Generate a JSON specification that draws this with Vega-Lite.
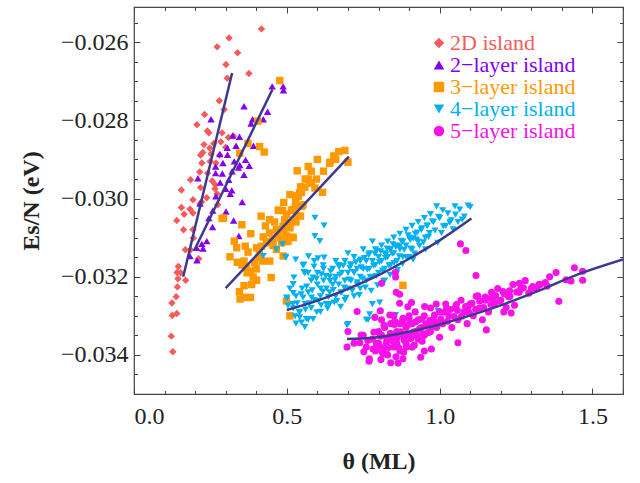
{
"$schema":"https://vega.github.io/schema/vega-lite/v6.json",
"width":489,"height":387,
"autosize":{"type":"none"},
"padding":{"left":134,"top":7,"right":17,"bottom":89},
"background":"white",
"config":{"font":"Liberation Serif","view":{"stroke":"#444","strokeWidth":1.2},
"axis":{"domain":false,"grid":false,"tickColor":"#444","tickWidth":1,"labelFont":"Liberation Serif","labelFontSize":24,"labelColor":"#222","titleFont":"Liberation Serif","titleFontSize":24,"titleFontWeight":"bold","titleColor":"#222"},
"legend":{"labelFont":"Liberation Serif","labelFontSize":22,"labelLimit":0,"symbolSize":110,"labelOffset":0,"rowPadding":0,"padding":0,"symbolStrokeWidth":0}},
"datasets":{
"pts":[
{"s":"2D island","x":0.417,"y":-0.02566},{"s":"2D island","x":0.311,"y":-0.02589},{"s":"2D island","x":0.272,"y":-0.02612},{"s":"2D island","x":0.339,"y":-0.02627},{"s":"2D island","x":0.301,"y":-0.02657},{"s":"2D island","x":0.376,"y":-0.0268},{"s":"2D island","x":0.305,"y":-0.02692},{"s":"2D island","x":0.279,"y":-0.0275},{"s":"2D island","x":0.295,"y":-0.02772},{"s":"2D island","x":0.231,"y":-0.02785},{"s":"2D island","x":0.206,"y":-0.02811},{"s":"2D island","x":0.24,"y":-0.02827},{"s":"2D island","x":0.245,"y":-0.02832},{"s":"2D island","x":0.288,"y":-0.02832},{"s":"2D island","x":0.325,"y":-0.0284},{"s":"2D island","x":0.309,"y":-0.02844},{"s":"2D island","x":0.284,"y":-0.02855},{"s":"2D island","x":0.261,"y":-0.02859},{"s":"2D island","x":0.229,"y":-0.02862},{"s":"2D island","x":0.248,"y":-0.02871},{"s":"2D island","x":0.3,"y":-0.02869},{"s":"2D island","x":0.225,"y":-0.02882},{"s":"2D island","x":0.218,"y":-0.02889},{"s":"2D island","x":0.252,"y":-0.02886},{"s":"2D island","x":0.28,"y":-0.02889},{"s":"2D island","x":0.249,"y":-0.02905},{"s":"2D island","x":0.222,"y":-0.02909},{"s":"2D island","x":0.268,"y":-0.02909},{"s":"2D island","x":0.215,"y":-0.02932},{"s":"2D island","x":0.241,"y":-0.02935},{"s":"2D island","x":0.185,"y":-0.02952},{"s":"2D island","x":0.256,"y":-0.02955},{"s":"2D island","x":0.266,"y":-0.02965},{"s":"2D island","x":0.218,"y":-0.02972},{"s":"2D island","x":0.155,"y":-0.02978},{"s":"2D island","x":0.265,"y":-0.02975},{"s":"2D island","x":0.272,"y":-0.02988},{"s":"2D island","x":0.193,"y":-0.03003},{"s":"2D island","x":0.221,"y":-0.03009},{"s":"2D island","x":0.238,"y":-0.02998},{"s":"2D island","x":0.155,"y":-0.03023},{"s":"2D island","x":0.183,"y":-0.03027},{"s":"2D island","x":0.164,"y":-0.0304},{"s":"2D island","x":0.193,"y":-0.03037},{"s":"2D island","x":0.14,"y":-0.03056},{"s":"2D island","x":0.162,"y":-0.0308},{"s":"2D island","x":0.193,"y":-0.03079},{"s":"2D island","x":0.194,"y":-0.03101},{"s":"2D island","x":0.168,"y":-0.03131},{"s":"2D island","x":0.185,"y":-0.03131},{"s":"2D island","x":0.212,"y":-0.03154},{"s":"2D island","x":0.145,"y":-0.03174},{"s":"2D island","x":0.141,"y":-0.03189},{"s":"2D island","x":0.153,"y":-0.0319},{"s":"2D island","x":0.144,"y":-0.03205},{"s":"2D island","x":0.169,"y":-0.03209},{"s":"2D island","x":0.142,"y":-0.03226},{"s":"2D island","x":0.138,"y":-0.03251},{"s":"2D island","x":0.124,"y":-0.03267},{"s":"2D island","x":0.125,"y":-0.03299},{"s":"2D island","x":0.14,"y":-0.03294},{"s":"2D island","x":0.122,"y":-0.03352},{"s":"2D island","x":0.127,"y":-0.03392},{"s":"2D island","x":0.216,"y":-0.03014},{"s":"2D island","x":0.274,"y":-0.03016},
{"s":"2−layer island","x":0.452,"y":-0.02713},{"s":"2−layer island","x":0.488,"y":-0.02713},{"s":"2−layer island","x":0.489,"y":-0.02723},{"s":"2−layer island","x":0.36,"y":-0.02764},{"s":"2−layer island","x":0.437,"y":-0.02778},{"s":"2−layer island","x":0.252,"y":-0.02797},{"s":"2−layer island","x":0.388,"y":-0.02797},{"s":"2−layer island","x":0.423,"y":-0.02797},{"s":"2−layer island","x":0.383,"y":-0.02808},{"s":"2−layer island","x":0.323,"y":-0.02839},{"s":"2−layer island","x":0.345,"y":-0.02842},{"s":"2−layer island","x":0.391,"y":-0.02865},{"s":"2−layer island","x":0.305,"y":-0.0287},{"s":"2−layer island","x":0.334,"y":-0.02865},{"s":"2−layer island","x":0.281,"y":-0.02886},{"s":"2−layer island","x":0.306,"y":-0.02888},{"s":"2−layer island","x":0.291,"y":-0.02909},{"s":"2−layer island","x":0.328,"y":-0.02905},{"s":"2−layer island","x":0.365,"y":-0.02901},{"s":"2−layer island","x":0.267,"y":-0.02918},{"s":"2−layer island","x":0.346,"y":-0.02914},{"s":"2−layer island","x":0.377,"y":-0.02916},{"s":"2−layer island","x":0.321,"y":-0.0293},{"s":"2−layer island","x":0.342,"y":-0.02921},{"s":"2−layer island","x":0.267,"y":-0.02935},{"s":"2−layer island","x":0.289,"y":-0.02936},{"s":"2−layer island","x":0.36,"y":-0.02939},{"s":"2−layer island","x":0.209,"y":-0.02948},{"s":"2−layer island","x":0.31,"y":-0.02952},{"s":"2−layer island","x":0.282,"y":-0.02959},{"s":"2−layer island","x":0.3,"y":-0.02975},{"s":"2−layer island","x":0.32,"y":-0.02979},{"s":"2−layer island","x":0.315,"y":-0.02988},{"s":"2−layer island","x":0.216,"y":-0.03013},{"s":"2−layer island","x":0.354,"y":-0.03009},{"s":"2−layer island","x":0.268,"y":-0.02994},{"s":"2−layer island","x":0.301,"y":-0.03033},{"s":"2−layer island","x":0.245,"y":-0.0305},{"s":"2−layer island","x":0.326,"y":-0.03056},{"s":"2−layer island","x":0.257,"y":-0.03073},{"s":"2−layer island","x":0.258,"y":-0.03031},{"s":"2−layer island","x":0.343,"y":-0.03096},{"s":"2−layer island","x":0.238,"y":-0.03109},{"s":"2−layer island","x":0.222,"y":-0.03116},{"s":"2−layer island","x":0.205,"y":-0.03126},{"s":"2−layer island","x":0.226,"y":-0.03128},{"s":"2−layer island","x":0.183,"y":-0.03147},{"s":"2−layer island","x":0.206,"y":-0.03158},
{"s":"3−layer island","x":0.477,"y":-0.02698},{"s":"3−layer island","x":0.405,"y":-0.02802},{"s":"3−layer island","x":0.373,"y":-0.02859},{"s":"3−layer island","x":0.411,"y":-0.02867},{"s":"3−layer island","x":0.426,"y":-0.02881},{"s":"3−layer island","x":0.346,"y":-0.02884},{"s":"3−layer island","x":0.534,"y":-0.02929},{"s":"3−layer island","x":0.532,"y":-0.02993},{"s":"3−layer island","x":0.542,"y":-0.02986},{"s":"3−layer island","x":0.288,"y":-0.03051},{"s":"3−layer island","x":0.416,"y":-0.03045},{"s":"3−layer island","x":0.472,"y":-0.0303},{"s":"3−layer island","x":0.486,"y":-0.03031},{"s":"3−layer island","x":0.515,"y":-0.0303},{"s":"3−layer island","x":0.528,"y":-0.03021},{"s":"3−layer island","x":0.382,"y":-0.0309},{"s":"3−layer island","x":0.328,"y":-0.03109},{"s":"3−layer island","x":0.336,"y":-0.03126},{"s":"3−layer island","x":0.364,"y":-0.03122},{"s":"3−layer island","x":0.401,"y":-0.03126},{"s":"3−layer island","x":0.423,"y":-0.03098},{"s":"3−layer island","x":0.519,"y":-0.03099},{"s":"3−layer island","x":0.293,"y":-0.0305},{"s":"3−layer island","x":0.353,"y":-0.03067},{"s":"3−layer island","x":0.373,"y":-0.03137},{"s":"3−layer island","x":0.314,"y":-0.03149},{"s":"3−layer island","x":0.338,"y":-0.03163},{"s":"3−layer island","x":0.353,"y":-0.0317},{"s":"3−layer island","x":0.368,"y":-0.03178},{"s":"3−layer island","x":0.381,"y":-0.03186},{"s":"3−layer island","x":0.39,"y":-0.03201},{"s":"3−layer island","x":0.401,"y":-0.03209},{"s":"3−layer island","x":0.36,"y":-0.03223},{"s":"3−layer island","x":0.345,"y":-0.03238},{"s":"3−layer island","x":0.347,"y":-0.03257},{"s":"3−layer island","x":0.363,"y":-0.03253},{"s":"3−layer island","x":0.381,"y":-0.03253},{"s":"3−layer island","x":0.449,"y":-0.03202},{"s":"3−layer island","x":0.395,"y":-0.03164},{"s":"3−layer island","x":0.409,"y":-0.03151},{"s":"3−layer island","x":0.444,"y":-0.03088},{"s":"3−layer island","x":0.466,"y":-0.03079},{"s":"3−layer island","x":0.488,"y":-0.03071},{"s":"3−layer island","x":0.51,"y":-0.03062},{"s":"3−layer island","x":0.532,"y":-0.03045},{"s":"3−layer island","x":0.548,"y":-0.0302},{"s":"3−layer island","x":0.444,"y":-0.03054},{"s":"3−layer island","x":0.466,"y":-0.0313},{"s":"3−layer island","x":0.434,"y":-0.03113},{"s":"3−layer island","x":0.417,"y":-0.03122},{"s":"3−layer island","x":0.455,"y":-0.03105},{"s":"3−layer island","x":0.499,"y":-0.03096},{"s":"3−layer island","x":0.483,"y":-0.03113},{"s":"3−layer island","x":0.444,"y":-0.0316},{"s":"3−layer island","x":0.654,"y":-0.02891},{"s":"3−layer island","x":0.69,"y":-0.02877},{"s":"3−layer island","x":0.641,"y":-0.02907},{"s":"3−layer island","x":0.57,"y":-0.02918},{"s":"3−layer island","x":0.7,"y":-0.02907},{"s":"3−layer island","x":0.57,"y":-0.0295},{"s":"3−layer island","x":0.597,"y":-0.0295},{"s":"3−layer island","x":0.581,"y":-0.0296},{"s":"3−layer island","x":0.559,"y":-0.02971},{"s":"3−layer island","x":0.592,"y":-0.02973},{"s":"3−layer island","x":0.617,"y":-0.02984},{"s":"3−layer island","x":0.548,"y":-0.02984},{"s":"3−layer island","x":0.537,"y":-0.02994},{"s":"3−layer island","x":0.529,"y":-0.03005},{"s":"3−layer island","x":0.553,"y":-0.03016},{"s":"3−layer island","x":0.521,"y":-0.03028},{"s":"3−layer island","x":0.545,"y":-0.03045},{"s":"3−layer island","x":0.51,"y":-0.03075},{"s":"3−layer island","x":0.493,"y":-0.03054},{"s":"3−layer island","x":0.521,"y":-0.031},{"s":"3−layer island","x":0.504,"y":-0.03109},{"s":"3−layer island","x":0.488,"y":-0.03147},{"s":"3−layer island","x":0.88,"y":-0.03222},{"s":"3−layer island","x":0.499,"y":-0.03262},{"s":"3−layer island","x":0.51,"y":-0.033},{"s":"3−layer island","x":0.46,"y":-0.0306},{"s":"3−layer island","x":0.47,"y":-0.0309},{"s":"3−layer island","x":0.48,"y":-0.031},{"s":"3−layer island","x":0.49,"y":-0.0308},{"s":"3−layer island","x":0.5,"y":-0.0304},{"s":"3−layer island","x":0.5,"y":-0.0311},{"s":"3−layer island","x":0.51,"y":-0.0307},{"s":"3−layer island","x":0.52,"y":-0.0303},{"s":"3−layer island","x":0.53,"y":-0.0306},{"s":"3−layer island","x":0.455,"y":-0.0312},{"s":"3−layer island","x":0.44,"y":-0.0311},{"s":"3−layer island","x":0.43,"y":-0.0307},{"s":"3−layer island","x":0.475,"y":-0.0303},{"s":"3−layer island","x":0.49,"y":-0.0301},{"s":"3−layer island","x":0.51,"y":-0.0299},{"s":"3−layer island","x":0.545,"y":-0.0297},{"s":"3−layer island","x":0.56,"y":-0.0295},{"s":"3−layer island","x":0.575,"y":-0.0296},{"s":"3−layer island","x":0.58,"y":-0.0293},{"s":"3−layer island","x":0.6,"y":-0.029},{"s":"3−layer island","x":0.62,"y":-0.0293},{"s":"3−layer island","x":0.64,"y":-0.0291},{"s":"3−layer island","x":0.66,"y":-0.029},{"s":"3−layer island","x":0.67,"y":-0.0288},{"s":"3−layer island","x":0.37,"y":-0.0319},{"s":"3−layer island","x":0.36,"y":-0.0316},{"s":"3−layer island","x":0.4,"y":-0.0318},{"s":"3−layer island","x":0.385,"y":-0.0322},{"s":"3−layer island","x":0.41,"y":-0.0313},{"s":"3−layer island","x":0.42,"y":-0.0316},
{"s":"4−layer island","x":1.1,"y":-0.03022},{"s":"4−layer island","x":1.074,"y":-0.03054},{"s":"4−layer island","x":1.033,"y":-0.03061},{"s":"4−layer island","x":1.044,"y":-0.03079},{"s":"4−layer island","x":1.006,"y":-0.03088},{"s":"4−layer island","x":0.967,"y":-0.03088},{"s":"4−layer island","x":0.953,"y":-0.031},{"s":"4−layer island","x":0.924,"y":-0.03105},{"s":"4−layer island","x":0.904,"y":-0.03106},{"s":"4−layer island","x":0.994,"y":-0.03113},{"s":"4−layer island","x":0.954,"y":-0.0313},{"s":"4−layer island","x":0.869,"y":-0.03122},{"s":"4−layer island","x":0.847,"y":-0.03117},{"s":"4−layer island","x":0.837,"y":-0.0313},{"s":"4−layer island","x":0.794,"y":-0.03134},{"s":"4−layer island","x":0.824,"y":-0.03143},{"s":"4−layer island","x":0.913,"y":-0.03156},{"s":"4−layer island","x":0.592,"y":-0.03049},{"s":"4−layer island","x":0.622,"y":-0.03069},{"s":"4−layer island","x":0.592,"y":-0.03096},{"s":"4−layer island","x":0.608,"y":-0.03109},{"s":"4−layer island","x":0.486,"y":-0.03117},{"s":"4−layer island","x":0.497,"y":-0.03151},{"s":"4−layer island","x":0.529,"y":-0.03156},{"s":"4−layer island","x":0.553,"y":-0.03171},{"s":"4−layer island","x":0.622,"y":-0.03151},{"s":"4−layer island","x":0.619,"y":-0.03171},{"s":"4−layer island","x":0.671,"y":-0.03175},{"s":"4−layer island","x":0.742,"y":-0.03156},{"s":"4−layer island","x":0.706,"y":-0.03177},{"s":"4−layer island","x":0.559,"y":-0.03191},{"s":"4−layer island","x":0.523,"y":-0.03202},{"s":"4−layer island","x":0.521,"y":-0.03219},{"s":"4−layer island","x":0.586,"y":-0.03202},{"s":"4−layer island","x":0.613,"y":-0.03194},{"s":"4−layer island","x":0.641,"y":-0.03211},{"s":"4−layer island","x":0.499,"y":-0.03253},{"s":"4−layer island","x":0.521,"y":-0.03242},{"s":"4−layer island","x":0.553,"y":-0.03253},{"s":"4−layer island","x":0.581,"y":-0.03253},{"s":"4−layer island","x":0.542,"y":-0.03291},{"s":"4−layer island","x":0.586,"y":-0.03308},{"s":"4−layer island","x":0.559,"y":-0.03329},{"s":"4−layer island","x":0.7,"y":-0.03321},{"s":"4−layer island","x":0.766,"y":-0.0331},{"s":"4−layer island","x":0.78,"y":-0.0327},{"s":"4−layer island","x":0.804,"y":-0.03266},{"s":"4−layer island","x":0.994,"y":-0.03287},{"s":"4−layer island","x":0.856,"y":-0.03298},{"s":"4−layer island","x":0.466,"y":-0.0313},{"s":"4−layer island","x":0.496,"y":-0.03149},{"s":"4−layer island","x":0.556,"y":-0.03169},{"s":"4−layer island","x":0.556,"y":-0.03188},{"s":"4−layer island","x":0.501,"y":-0.03255},{"s":"4−layer island","x":0.504,"y":-0.03274},{"s":"4−layer island","x":0.521,"y":-0.03281},{"s":"4−layer island","x":0.542,"y":-0.03304},{"s":"4−layer island","x":0.548,"y":-0.03317},{"s":"4−layer island","x":0.564,"y":-0.03308},{"s":"4−layer island","x":0.423,"y":-0.03147},{"s":"4−layer island","x":0.697,"y":-0.03324},{"s":"4−layer island","x":0.76,"y":-0.0331},{"s":"4−layer island","x":0.771,"y":-0.03296},{"s":"4−layer island","x":0.809,"y":-0.03389},
{"s":"4−layer island","x":0.57,"y":-0.0324},{"s":"4−layer island","x":0.58,"y":-0.0321},{"s":"4−layer island","x":0.59,"y":-0.0326},{"s":"4−layer island","x":0.6,"y":-0.0322},{"s":"4−layer island","x":0.6,"y":-0.0319},{"s":"4−layer island","x":0.61,"y":-0.0325},{"s":"4−layer island","x":0.62,"y":-0.0321},{"s":"4−layer island","x":0.62,"y":-0.0318},{"s":"4−layer island","x":0.63,"y":-0.0323},{"s":"4−layer island","x":0.63,"y":-0.0327},{"s":"4−layer island","x":0.64,"y":-0.032},{"s":"4−layer island","x":0.64,"y":-0.0324},{"s":"4−layer island","x":0.65,"y":-0.0318},{"s":"4−layer island","x":0.65,"y":-0.0322},{"s":"4−layer island","x":0.66,"y":-0.0325},{"s":"4−layer island","x":0.66,"y":-0.032},{"s":"4−layer island","x":0.67,"y":-0.0317},{"s":"4−layer island","x":0.67,"y":-0.0322},{"s":"4−layer island","x":0.68,"y":-0.0319},{"s":"4−layer island","x":0.68,"y":-0.0324},{"s":"4−layer island","x":0.69,"y":-0.0321},{"s":"4−layer island","x":0.69,"y":-0.0316},{"s":"4−layer island","x":0.7,"y":-0.0319},{"s":"4−layer island","x":0.7,"y":-0.0323},{"s":"4−layer island","x":0.71,"y":-0.0317},{"s":"4−layer island","x":0.71,"y":-0.0321},{"s":"4−layer island","x":0.72,"y":-0.0319},{"s":"4−layer island","x":0.72,"y":-0.0315},{"s":"4−layer island","x":0.73,"y":-0.0322},{"s":"4−layer island","x":0.73,"y":-0.0318},{"s":"4−layer island","x":0.74,"y":-0.0316},{"s":"4−layer island","x":0.74,"y":-0.032},{"s":"4−layer island","x":0.75,"y":-0.0318},{"s":"4−layer island","x":0.75,"y":-0.0313},{"s":"4−layer island","x":0.76,"y":-0.0321},{"s":"4−layer island","x":0.76,"y":-0.0316},{"s":"4−layer island","x":0.77,"y":-0.0318},{"s":"4−layer island","x":0.77,"y":-0.0314},{"s":"4−layer island","x":0.78,"y":-0.0316},{"s":"4−layer island","x":0.78,"y":-0.032},{"s":"4−layer island","x":0.79,"y":-0.0313},{"s":"4−layer island","x":0.79,"y":-0.0317},{"s":"4−layer island","x":0.8,"y":-0.0315},{"s":"4−layer island","x":0.8,"y":-0.0319},{"s":"4−layer island","x":0.81,"y":-0.0312},{"s":"4−layer island","x":0.81,"y":-0.0316},{"s":"4−layer island","x":0.82,"y":-0.0314},{"s":"4−layer island","x":0.82,"y":-0.0318},{"s":"4−layer island","x":0.83,"y":-0.0311},{"s":"4−layer island","x":0.83,"y":-0.0315},{"s":"4−layer island","x":0.84,"y":-0.0313},{"s":"4−layer island","x":0.84,"y":-0.0317},{"s":"4−layer island","x":0.85,"y":-0.031},{"s":"4−layer island","x":0.85,"y":-0.0314},{"s":"4−layer island","x":0.86,"y":-0.0312},{"s":"4−layer island","x":0.86,"y":-0.0316},{"s":"4−layer island","x":0.87,"y":-0.0309},{"s":"4−layer island","x":0.87,"y":-0.0313},{"s":"4−layer island","x":0.88,"y":-0.0311},{"s":"4−layer island","x":0.88,"y":-0.0315},{"s":"4−layer island","x":0.89,"y":-0.0308},{"s":"4−layer island","x":0.89,"y":-0.0312},{"s":"4−layer island","x":0.9,"y":-0.031},{"s":"4−layer island","x":0.91,"y":-0.0307},{"s":"4−layer island","x":0.91,"y":-0.0313},{"s":"4−layer island","x":0.92,"y":-0.0309},{"s":"4−layer island","x":0.93,"y":-0.0311},{"s":"4−layer island","x":0.93,"y":-0.0306},{"s":"4−layer island","x":0.94,"y":-0.0308},{"s":"4−layer island","x":0.95,"y":-0.0305},{"s":"4−layer island","x":0.96,"y":-0.0307},{"s":"4−layer island","x":0.97,"y":-0.0304},{"s":"4−layer island","x":0.98,"y":-0.0306},{"s":"4−layer island","x":0.99,"y":-0.0302},{"s":"4−layer island","x":1.0,"y":-0.0305},{"s":"4−layer island","x":1.01,"y":-0.0303},{"s":"4−layer island","x":1.02,"y":-0.0307},{"s":"4−layer island","x":1.05,"y":-0.0302},{"s":"4−layer island","x":1.06,"y":-0.0306},{"s":"4−layer island","x":0.58,"y":-0.0328},{"s":"4−layer island","x":0.61,"y":-0.0329},{"s":"4−layer island","x":0.64,"y":-0.0327},{"s":"4−layer island","x":0.57,"y":-0.0319},{"s":"4−layer island","x":0.59,"y":-0.0316},{"s":"4−layer island","x":0.55,"y":-0.0323},{"s":"4−layer island","x":0.56,"y":-0.0327},{"s":"4−layer island","x":0.53,"y":-0.0325},{"s":"4−layer island","x":0.54,"y":-0.0329},{"s":"4−layer island","x":0.52,"y":-0.0327},{"s":"4−layer island","x":0.51,"y":-0.0323},{"s":"4−layer island","x":0.53,"y":-0.0332},{"s":"4−layer island","x":0.57,"y":-0.0331},{"s":"4−layer island","x":0.61,"y":-0.0323},{"s":"4−layer island","x":0.66,"y":-0.0316},{"s":"4−layer island","x":0.7,"y":-0.0314},{"s":"4−layer island","x":0.74,"y":-0.0323},{"s":"4−layer island","x":0.78,"y":-0.0311},{"s":"4−layer island","x":0.82,"y":-0.0321},{"s":"4−layer island","x":0.86,"y":-0.0319},{"s":"4−layer island","x":0.9,"y":-0.0315},{"s":"4−layer island","x":0.69,"y":-0.0326},{"s":"4−layer island","x":0.72,"y":-0.0325},
{"s":"4−layer island","x":0.565,"y":-0.03225},{"s":"4−layer island","x":0.583,"y":-0.03235},{"s":"4−layer island","x":0.597,"y":-0.03205},{"s":"4−layer island","x":0.604,"y":-0.03262},{"s":"4−layer island","x":0.618,"y":-0.03238},{"s":"4−layer island","x":0.627,"y":-0.03198},{"s":"4−layer island","x":0.636,"y":-0.03252},{"s":"4−layer island","x":0.643,"y":-0.03186},{"s":"4−layer island","x":0.652,"y":-0.03234},{"s":"4−layer island","x":0.658,"y":-0.03208},{"s":"4−layer island","x":0.664,"y":-0.03262},{"s":"4−layer island","x":0.673,"y":-0.03195},{"s":"4−layer island","x":0.677,"y":-0.03241},{"s":"4−layer island","x":0.685,"y":-0.03172},{"s":"4−layer island","x":0.688,"y":-0.03228},{"s":"4−layer island","x":0.694,"y":-0.03254},{"s":"4−layer island","x":0.703,"y":-0.03207},{"s":"4−layer island","x":0.708,"y":-0.03168},{"s":"4−layer island","x":0.714,"y":-0.03236},{"s":"4−layer island","x":0.719,"y":-0.03188},{"s":"4−layer island","x":0.726,"y":-0.03163},{"s":"4−layer island","x":0.731,"y":-0.03214},{"s":"4−layer island","x":0.737,"y":-0.03247},{"s":"4−layer island","x":0.743,"y":-0.03176},{"s":"4−layer island","x":0.748,"y":-0.03205},{"s":"4−layer island","x":0.754,"y":-0.03152},{"s":"4−layer island","x":0.757,"y":-0.03228},{"s":"4−layer island","x":0.763,"y":-0.03182},{"s":"4−layer island","x":0.768,"y":-0.03145},{"s":"4−layer island","x":0.773,"y":-0.03201},{"s":"4−layer island","x":0.776,"y":-0.03236},{"s":"4−layer island","x":0.784,"y":-0.03172},{"s":"4−layer island","x":0.788,"y":-0.03141},{"s":"4−layer island","x":0.793,"y":-0.03198},{"s":"4−layer island","x":0.797,"y":-0.03222},{"s":"4−layer island","x":0.803,"y":-0.03163},{"s":"4−layer island","x":0.807,"y":-0.03135},{"s":"4−layer island","x":0.813,"y":-0.03184},{"s":"4−layer island","x":0.817,"y":-0.03211},{"s":"4−layer island","x":0.823,"y":-0.03152},{"s":"4−layer island","x":0.828,"y":-0.03128},{"s":"4−layer island","x":0.834,"y":-0.03171},{"s":"4−layer island","x":0.838,"y":-0.03195},{"s":"4−layer island","x":0.845,"y":-0.03141},{"s":"4−layer island","x":0.851,"y":-0.03165},{"s":"4−layer island","x":0.857,"y":-0.03124},{"s":"4−layer island","x":0.862,"y":-0.03182},{"s":"4−layer island","x":0.868,"y":-0.03148},{"s":"4−layer island","x":0.874,"y":-0.03108},{"s":"4−layer island","x":0.879,"y":-0.03167},{"s":"4−layer island","x":0.884,"y":-0.03131},{"s":"4−layer island","x":0.893,"y":-0.03152},{"s":"4−layer island","x":0.897,"y":-0.03094},{"s":"4−layer island","x":0.905,"y":-0.03128},{"s":"4−layer island","x":0.914,"y":-0.03102},{"s":"4−layer island","x":0.918,"y":-0.03141},{"s":"4−layer island","x":0.927,"y":-0.03087},{"s":"4−layer island","x":0.934,"y":-0.03121},{"s":"4−layer island","x":0.942,"y":-0.03076},{"s":"4−layer island","x":0.947,"y":-0.03112},{"s":"4−layer island","x":0.958,"y":-0.03069},{"s":"4−layer island","x":0.964,"y":-0.03098},{"s":"4−layer island","x":0.976,"y":-0.03058},{"s":"4−layer island","x":0.985,"y":-0.03082},{"s":"4−layer island","x":0.996,"y":-0.03047},{"s":"4−layer island","x":1.012,"y":-0.03071},{"s":"4−layer island","x":1.027,"y":-0.03038},{"s":"4−layer island","x":1.038,"y":-0.03056},{"s":"4−layer island","x":1.052,"y":-0.03041},{"s":"4−layer island","x":1.066,"y":-0.03028},{"s":"4−layer island","x":1.081,"y":-0.03046},{"s":"4−layer island","x":1.093,"y":-0.03018},{"s":"4−layer island","x":0.612,"y":-0.03273},{"s":"4−layer island","x":0.633,"y":-0.03281},{"s":"4−layer island","x":0.655,"y":-0.03266},{"s":"4−layer island","x":0.676,"y":-0.03277},{"s":"4−layer island","x":0.598,"y":-0.03291},{"s":"4−layer island","x":0.574,"y":-0.03268},{"s":"4−layer island","x":0.547,"y":-0.03245},{"s":"4−layer island","x":0.534,"y":-0.03268},{"s":"4−layer island","x":0.527,"y":-0.03301},{"s":"4−layer island","x":0.561,"y":-0.03284},{"s":"4−layer island","x":0.589,"y":-0.03174},{"s":"4−layer island","x":0.602,"y":-0.03153},{"s":"4−layer island","x":0.571,"y":-0.03148},
{"s":"5−layer island","x":1.068,"y":-0.03116},{"s":"5−layer island","x":1.086,"y":-0.03133},{"s":"5−layer island","x":1.119,"y":-0.03197},{"s":"5−layer island","x":0.855,"y":-0.03189},{"s":"5−layer island","x":0.856,"y":-0.03201},{"s":"5−layer island","x":0.81,"y":-0.03217},{"s":"5−layer island","x":0.858,"y":-0.0324},{"s":"5−layer island","x":0.869,"y":-0.03245},{"s":"5−layer island","x":0.908,"y":-0.03266},{"s":"5−layer island","x":0.896,"y":-0.03277},{"s":"5−layer island","x":0.869,"y":-0.03268},{"s":"5−layer island","x":0.73,"y":-0.03289},{"s":"5−layer island","x":0.806,"y":-0.03287},{"s":"5−layer island","x":0.788,"y":-0.03304},{"s":"5−layer island","x":0.837,"y":-0.03298},{"s":"5−layer island","x":0.853,"y":-0.03314},{"s":"5−layer island","x":0.88,"y":-0.03306},{"s":"5−layer island","x":0.9,"y":-0.03306},{"s":"5−layer island","x":0.951,"y":-0.03276},{"s":"5−layer island","x":1.022,"y":-0.03283},{"s":"5−layer island","x":1.055,"y":-0.03271},{"s":"5−layer island","x":1.092,"y":-0.0328},{"s":"5−layer island","x":1.125,"y":-0.03249},{"s":"5−layer island","x":1.149,"y":-0.03252},{"s":"5−layer island","x":1.174,"y":-0.03257},{"s":"5−layer island","x":1.212,"y":-0.03244},{"s":"5−layer island","x":1.229,"y":-0.03236},{"s":"5−layer island","x":1.261,"y":-0.03217},{"s":"5−layer island","x":1.265,"y":-0.03232},{"s":"5−layer island","x":1.305,"y":-0.03225},{"s":"5−layer island","x":1.325,"y":-0.0322},{"s":"5−layer island","x":1.346,"y":-0.03215},{"s":"5−layer island","x":1.381,"y":-0.03189},{"s":"5−layer island","x":1.414,"y":-0.03208},{"s":"5−layer island","x":1.43,"y":-0.03211},{"s":"5−layer island","x":1.441,"y":-0.03177},{"s":"5−layer island","x":1.468,"y":-0.03186},{"s":"5−layer island","x":1.468,"y":-0.03209},{"s":"5−layer island","x":1.39,"y":-0.03263},{"s":"5−layer island","x":1.245,"y":-0.03273},{"s":"5−layer island","x":1.234,"y":-0.03293},{"s":"5−layer island","x":1.218,"y":-0.03279},{"s":"5−layer island","x":1.153,"y":-0.03336},{"s":"5−layer island","x":1.06,"y":-0.03369},{"s":"5−layer island","x":0.697,"y":-0.0338},{"s":"5−layer island","x":0.739,"y":-0.03369},{"s":"5−layer island","x":0.769,"y":-0.03416},{"s":"5−layer island","x":0.864,"y":-0.03421},{"s":"5−layer island","x":0.938,"y":-0.03406},{"s":"5−layer island","x":0.815,"y":-0.03397},{"s":"5−layer island","x":0.802,"y":-0.0338},{"s":"5−layer island","x":0.782,"y":-0.03385},{"s":"5−layer island","x":0.826,"y":-0.03368},{"s":"5−layer island","x":0.891,"y":-0.0338},{"s":"5−layer island","x":0.973,"y":-0.03385},{"s":"5−layer island","x":1.0,"y":-0.03355},{"s":"5−layer island","x":0.743,"y":-0.03349},{"s":"5−layer island","x":0.989,"y":-0.0327},
{"s":"5−layer island","x":0.78,"y":-0.0336},{"s":"5−layer island","x":0.79,"y":-0.0339},{"s":"5−layer island","x":0.8,"y":-0.0334},{"s":"5−layer island","x":0.8,"y":-0.0337},{"s":"5−layer island","x":0.81,"y":-0.0331},{"s":"5−layer island","x":0.81,"y":-0.0335},{"s":"5−layer island","x":0.82,"y":-0.0338},{"s":"5−layer island","x":0.82,"y":-0.0333},{"s":"5−layer island","x":0.83,"y":-0.0336},{"s":"5−layer island","x":0.83,"y":-0.034},{"s":"5−layer island","x":0.84,"y":-0.0332},{"s":"5−layer island","x":0.84,"y":-0.0335},{"s":"5−layer island","x":0.85,"y":-0.0338},{"s":"5−layer island","x":0.85,"y":-0.033},{"s":"5−layer island","x":0.86,"y":-0.0334},{"s":"5−layer island","x":0.86,"y":-0.0337},{"s":"5−layer island","x":0.87,"y":-0.0332},{"s":"5−layer island","x":0.87,"y":-0.0339},{"s":"5−layer island","x":0.88,"y":-0.0335},{"s":"5−layer island","x":0.88,"y":-0.0331},{"s":"5−layer island","x":0.89,"y":-0.0337},{"s":"5−layer island","x":0.89,"y":-0.0333},{"s":"5−layer island","x":0.9,"y":-0.033},{"s":"5−layer island","x":0.9,"y":-0.0335},{"s":"5−layer island","x":0.91,"y":-0.0338},{"s":"5−layer island","x":0.91,"y":-0.0332},{"s":"5−layer island","x":0.92,"y":-0.0334},{"s":"5−layer island","x":0.92,"y":-0.0329},{"s":"5−layer island","x":0.93,"y":-0.0336},{"s":"5−layer island","x":0.93,"y":-0.0331},{"s":"5−layer island","x":0.94,"y":-0.0333},{"s":"5−layer island","x":0.95,"y":-0.033},{"s":"5−layer island","x":0.95,"y":-0.0335},{"s":"5−layer island","x":0.96,"y":-0.0332},{"s":"5−layer island","x":0.97,"y":-0.0328},{"s":"5−layer island","x":0.97,"y":-0.0334},{"s":"5−layer island","x":0.98,"y":-0.0331},{"s":"5−layer island","x":0.99,"y":-0.0333},{"s":"5−layer island","x":1.0,"y":-0.0329},{"s":"5−layer island","x":1.01,"y":-0.0332},{"s":"5−layer island","x":1.02,"y":-0.0327},{"s":"5−layer island","x":1.03,"y":-0.033},{"s":"5−layer island","x":1.04,"y":-0.0333},{"s":"5−layer island","x":1.05,"y":-0.0328},{"s":"5−layer island","x":1.06,"y":-0.0331},{"s":"5−layer island","x":1.07,"y":-0.0326},{"s":"5−layer island","x":1.08,"y":-0.0329},{"s":"5−layer island","x":1.09,"y":-0.0332},{"s":"5−layer island","x":1.1,"y":-0.0327},{"s":"5−layer island","x":1.11,"y":-0.033},{"s":"5−layer island","x":1.12,"y":-0.0325},{"s":"5−layer island","x":1.13,"y":-0.0328},{"s":"5−layer island","x":1.14,"y":-0.0331},{"s":"5−layer island","x":1.15,"y":-0.0326},{"s":"5−layer island","x":1.16,"y":-0.0329},{"s":"5−layer island","x":1.17,"y":-0.0324},{"s":"5−layer island","x":1.18,"y":-0.0327},{"s":"5−layer island","x":1.19,"y":-0.0323},{"s":"5−layer island","x":1.2,"y":-0.0326},{"s":"5−layer island","x":1.21,"y":-0.0329},{"s":"5−layer island","x":1.23,"y":-0.0325},{"s":"5−layer island","x":1.24,"y":-0.0322},{"s":"5−layer island","x":1.26,"y":-0.0324},{"s":"5−layer island","x":1.28,"y":-0.0321},{"s":"5−layer island","x":1.3,"y":-0.0323},{"s":"5−layer island","x":1.33,"y":-0.0322},{"s":"5−layer island","x":1.36,"y":-0.032},{"s":"5−layer island","x":0.76,"y":-0.0338},{"s":"5−layer island","x":0.77,"y":-0.0341},{"s":"5−layer island","x":0.75,"y":-0.0335},{"s":"5−layer island","x":0.84,"y":-0.0342},{"s":"5−layer island","x":0.88,"y":-0.0341},{"s":"5−layer island","x":0.95,"y":-0.0339},{"s":"5−layer island","x":0.72,"y":-0.0337},{"s":"5−layer island","x":0.7,"y":-0.0334},
{"s":"5−layer island","x":0.785,"y":-0.03342},{"s":"5−layer island","x":0.793,"y":-0.03371},{"s":"5−layer island","x":0.806,"y":-0.03352},{"s":"5−layer island","x":0.812,"y":-0.03392},{"s":"5−layer island","x":0.818,"y":-0.03324},{"s":"5−layer island","x":0.827,"y":-0.03357},{"s":"5−layer island","x":0.833,"y":-0.03381},{"s":"5−layer island","x":0.839,"y":-0.03345},{"s":"5−layer island","x":0.846,"y":-0.03364},{"s":"5−layer island","x":0.852,"y":-0.03322},{"s":"5−layer island","x":0.861,"y":-0.03356},{"s":"5−layer island","x":0.866,"y":-0.03381},{"s":"5−layer island","x":0.872,"y":-0.03341},{"s":"5−layer island","x":0.877,"y":-0.03318},{"s":"5−layer island","x":0.884,"y":-0.03362},{"s":"5−layer island","x":0.893,"y":-0.03346},{"s":"5−layer island","x":0.898,"y":-0.03322},{"s":"5−layer island","x":0.906,"y":-0.03358},{"s":"5−layer island","x":0.913,"y":-0.03342},{"s":"5−layer island","x":0.921,"y":-0.03316},{"s":"5−layer island","x":0.926,"y":-0.03351},{"s":"5−layer island","x":0.934,"y":-0.03334},{"s":"5−layer island","x":0.941,"y":-0.03309},{"s":"5−layer island","x":0.946,"y":-0.03346},{"s":"5−layer island","x":0.955,"y":-0.03321},{"s":"5−layer island","x":0.962,"y":-0.03343},{"s":"5−layer island","x":0.968,"y":-0.03312},{"s":"5−layer island","x":0.976,"y":-0.03326},{"s":"5−layer island","x":0.983,"y":-0.03298},{"s":"5−layer island","x":0.991,"y":-0.03318},{"s":"5−layer island","x":1.004,"y":-0.03308},{"s":"5−layer island","x":1.013,"y":-0.03291},{"s":"5−layer island","x":1.026,"y":-0.03314},{"s":"5−layer island","x":1.034,"y":-0.03284},{"s":"5−layer island","x":1.047,"y":-0.03302},{"s":"5−layer island","x":1.058,"y":-0.03286},{"s":"5−layer island","x":1.072,"y":-0.03301},{"s":"5−layer island","x":1.085,"y":-0.03276},{"s":"5−layer island","x":1.097,"y":-0.03292},{"s":"5−layer island","x":1.106,"y":-0.03268},{"s":"5−layer island","x":1.118,"y":-0.03283},{"s":"5−layer island","x":1.131,"y":-0.03262},{"s":"5−layer island","x":1.144,"y":-0.03279},{"s":"5−layer island","x":1.157,"y":-0.03255},{"s":"5−layer island","x":1.168,"y":-0.03271},{"s":"5−layer island","x":1.183,"y":-0.03248},{"s":"5−layer island","x":1.196,"y":-0.03262},{"s":"5−layer island","x":1.207,"y":-0.03238},{"s":"5−layer island","x":1.226,"y":-0.03251},{"s":"5−layer island","x":1.252,"y":-0.03239},{"s":"5−layer island","x":1.274,"y":-0.03228},{"s":"5−layer island","x":1.292,"y":-0.03242},{"s":"5−layer island","x":1.318,"y":-0.03231},{"s":"5−layer island","x":1.352,"y":-0.03224},{"s":"5−layer island","x":0.808,"y":-0.03412},{"s":"5−layer island","x":0.826,"y":-0.03398},{"s":"5−layer island","x":0.857,"y":-0.03405},{"s":"5−layer island","x":0.882,"y":-0.03393},{"s":"5−layer island","x":0.917,"y":-0.03375},{"s":"5−layer island","x":0.943,"y":-0.03365},{"s":"5−layer island","x":0.765,"y":-0.03363},{"s":"5−layer island","x":0.752,"y":-0.03392}
],
"fits":[
{"f":"2D","k":"straight","x":0.161,"y":-0.032},{"f":"2D","k":"straight","x":0.321,"y":-0.02679},
{"f":"2L","k":"straight","x":0.197,"y":-0.03133},{"f":"2L","k":"straight","x":0.453,"y":-0.02721},
{"f":"3L","k":"straight","x":0.3,"y":-0.03229},{"f":"3L","k":"straight","x":0.703,"y":-0.02893},
{"f":"4L","k":"curve","x":0.5,"y":-0.03285},{"f":"4L","k":"curve","x":0.6,"y":-0.03261},{"f":"4L","k":"curve","x":0.7,"y":-0.03231},{"f":"4L","k":"curve","x":0.8,"y":-0.03196},{"f":"4L","k":"curve","x":0.9,"y":-0.03154},{"f":"4L","k":"curve","x":1.0,"y":-0.03107},{"f":"4L","k":"curve","x":1.104,"y":-0.03051},
{"f":"5L","k":"curve","x":0.697,"y":-0.03359},{"f":"5L","k":"curve","x":0.782,"y":-0.03356},{"f":"5L","k":"curve","x":0.891,"y":-0.03342},{"f":"5L","k":"curve","x":1.0,"y":-0.03322},{"f":"5L","k":"curve","x":1.109,"y":-0.03297},{"f":"5L","k":"curve","x":1.218,"y":-0.03268},{"f":"5L","k":"curve","x":1.327,"y":-0.03235},{"f":"5L","k":"curve","x":1.436,"y":-0.03199},{"f":"5L","k":"curve","x":1.6,"y":-0.03156}
]},
"layer":[
{"data":{"name":"pts"},
 "transform":[{"filter":{"field":"s","oneOf":["2D island","2−layer island","3−layer island"]}}],
 "mark":{"type":"point","filled":true,"opacity":1,"strokeWidth":0,"size":55},
 "encoding":{
  "x":{"field":"x","type":"quantitative","scale":{"domain":[0,1.6],"nice":false,"zero":false},
   "axis":{"orient":"bottom","values":[0,0.5,1,1.5],"format":".1f","tickSize":-6,"labelPadding":16,"title":"θ (ML)","titlePadding":21}},
  "y":{"field":"y","type":"quantitative","scale":{"domain":[-0.035,-0.0251],"nice":false,"zero":false},
   "axis":{"orient":"left","values":[-0.034,-0.032,-0.03,-0.028,-0.026],"format":".3f","tickSize":-6,"labelPadding":12,"title":"Es/N (eV)","titlePadding":17}},
  "color":{"field":"s","type":"nominal","scale":{"domain":["2D island","2−layer island","3−layer island","4−layer island","5−layer island"],"range":["#f65a5a","#8200ee","#ff9900","#00b0f0","#f811e8"]},
   "legend":{"orient":"none","legendX":294,"legendY":25,"title":null,"labelColor":{"expr":"scale('color', datum.value)"}}},
  "shape":{"field":"s","type":"nominal","scale":{"domain":["2D island","2−layer island","3−layer island","4−layer island","5−layer island"],"range":["diamond","triangle-up","square","triangle-down","circle"]},
   "legend":{"orient":"none","legendX":294,"legendY":25,"title":null,"labelColor":{"expr":"scale('color', datum.value)"}}}
 }},
{"data":{"name":"pts"},
 "transform":[{"filter":{"field":"s","oneOf":["4−layer island","5−layer island"]}}],
 "mark":{"type":"point","filled":true,"opacity":1,"strokeWidth":0,"size":50},
 "encoding":{
  "x":{"field":"x","type":"quantitative","axis":{"orient":"bottom","values":[0,0.1,0.2,0.3,0.4,0.5,0.6,0.7,0.8,0.9,1,1.1,1.2,1.3,1.4,1.5,1.6],"labels":false,"tickSize":-3.5,"title":null}},
  "y":{"field":"y","type":"quantitative","axis":{"orient":"left","values":[-0.035,-0.0345,-0.034,-0.0335,-0.033,-0.0325,-0.032,-0.0315,-0.031,-0.0305,-0.03,-0.0295,-0.029,-0.0285,-0.028,-0.0275,-0.027,-0.0265,-0.026,-0.0255],"labels":false,"tickSize":-3.5,"title":null}},
  "color":{"field":"s","type":"nominal"},
  "shape":{"field":"s","type":"nominal"}
 }},
{"data":{"name":"fits"},
 "transform":[{"filter":{"field":"k","equal":"straight"}}],
 "mark":{"type":"line","color":"#3d3a8e","strokeWidth":2.5},
 "encoding":{
  "x":{"field":"x","type":"quantitative","axis":{"orient":"top","values":[0,0.5,1,1.5],"labels":false,"tickSize":-6,"title":null}},
  "y":{"field":"y","type":"quantitative","axis":{"orient":"right","values":[-0.034,-0.032,-0.03,-0.028,-0.026],"labels":false,"tickSize":-6,"title":null}},
  "detail":{"field":"f","type":"nominal"}
 }},
{"data":{"name":"fits"},
 "transform":[{"filter":{"field":"k","equal":"curve"}}],
 "mark":{"type":"line","color":"#3d3a8e","strokeWidth":2.5,"interpolate":"monotone","clip":true},
 "encoding":{
  "x":{"field":"x","type":"quantitative","axis":{"orient":"top","values":[0,0.1,0.2,0.3,0.4,0.5,0.6,0.7,0.8,0.9,1,1.1,1.2,1.3,1.4,1.5,1.6],"labels":false,"tickSize":-3.5,"title":null}},
  "y":{"field":"y","type":"quantitative","axis":{"orient":"right","values":[-0.035,-0.0345,-0.034,-0.0335,-0.033,-0.0325,-0.032,-0.0315,-0.031,-0.0305,-0.03,-0.0295,-0.029,-0.0285,-0.028,-0.0275,-0.027,-0.0265,-0.026,-0.0255],"labels":false,"tickSize":-3.5,"title":null}},
  "detail":{"field":"f","type":"nominal"}
 }}
],
"resolve":{"axis":{"x":"independent","y":"independent"}}
}
